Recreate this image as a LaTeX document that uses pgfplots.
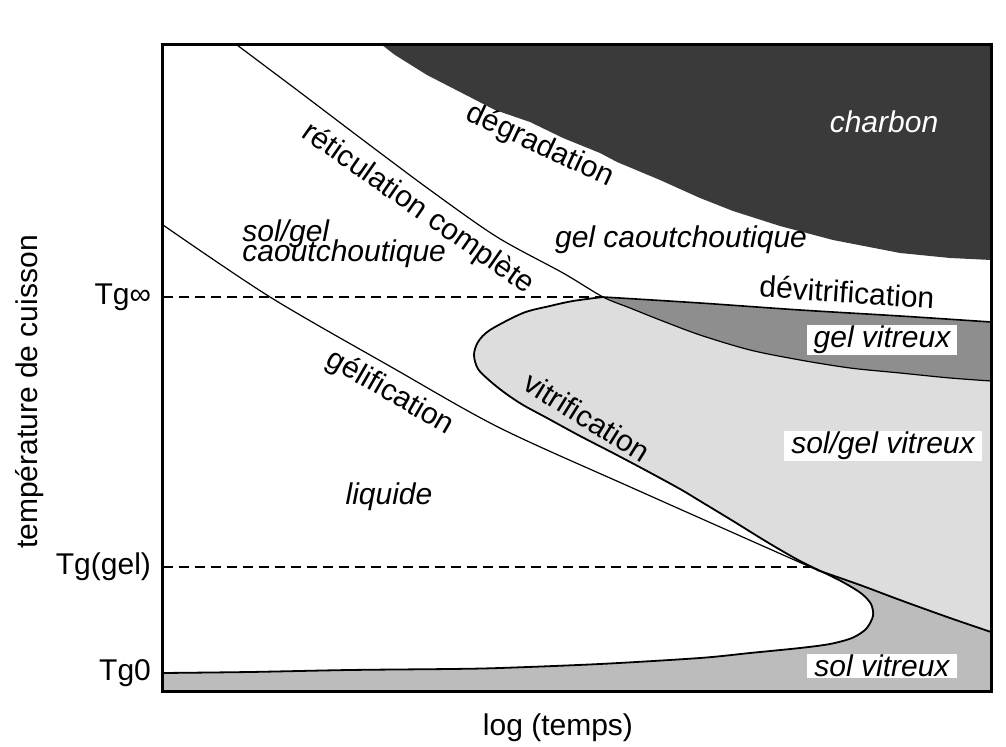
\documentclass[border=0pt]{standalone}
\usepackage{fontspec}
\setmainfont{Liberation Sans}
\setsansfont{Liberation Sans}
\usepackage{pgfplots}
\pgfplotsset{compat=1.18}

\definecolor{charbon}{HTML}{3A3A3A}
\definecolor{gelvit}{HTML}{8E8E8E}
\definecolor{solgelvit}{HTML}{DDDDDD}
\definecolor{solvit}{HTML}{BCBCBC}

\begin{document}
\begin{tikzpicture}[font=\fontsize{15}{15}\selectfont]
\begin{axis}[
  x=0.5pt, y=0.5pt, y dir=reverse,
  xmin=163, xmax=991, ymin=45, ymax=692,
  axis on top, clip=false,
  axis line style={line width=1.5pt},
  xtick=\empty,
  ytick={297,567,673},
  yticklabels={Tg∞,Tg(gel),Tg0},
  major tick length=0pt,
  yticklabel style={font=\fontsize{15}{15}\selectfont, xshift=-2.5pt},
]
% zones
\addplot[fill=charbon, draw=none] coordinates {
  (382,45) (395,55) (427,75) (462,93) (495,110) (530,122) (563,138) (600,153)
  (617,162) (660,180) (700,198) (733,211) (780,226) (833,240) (900,253)
  (950,258) (991,260) (991,45) (382,45)};
\addplot[fill=solgelvit, draw=none] coordinates {
  (603,297) (630,308) (660,320) (700,335) (750,350) (800,360) (850,368)
  (900,373) (950,378) (991,381) (991,632) (950,618) (900,600) (860,585)
  (833,577) (800,561) (767,542) (733,521) (700,501) (680,489) (647,471)
  (613,453) (580,436) (547,418) (523,405) (505,393) (490,381) (478,369)
  (474,355) (478,342) (490,330) (523,313) (550,306) (573,301) (603,297)};
\addplot[fill=gelvit, draw=none] coordinates {
  (603,297) (700,303) (800,310) (900,316) (991,322) (991,381) (950,378)
  (900,373) (850,368) (800,360) (750,350) (700,335) (660,320) (630,308)
  (603,297)};
\addplot[fill=solvit, draw=none] coordinates {
  (163,692) (163,673) (250,672) (350,670) (450,669) (500,668) (600,664)
  (700,658) (750,653) (800,648) (830,644) (852,638) (866,629) (873,616)
  (871,604) (862,594) (848,585) (833,577) (860,585) (900,600) (950,618)
  (991,632) (991,692) (163,692)};

% courbes
\addplot[black, line width=0.9pt, smooth] coordinates {
  (163,673) (250,672) (350,670) (450,669) (500,668) (600,664) (700,658)
  (750,653) (800,648) (830,644) (852,638) (866,629) (873,616) (871,604)
  (862,594) (848,585) (833,577) (800,561) (767,542) (733,521) (700,501)
  (680,489) (647,471) (613,453) (580,436) (547,418) (523,405) (505,393)
  (490,381) (478,369) (474,355) (478,342) (490,330) (523,313) (550,306)
  (573,301) (603,297)};
\addplot[black, line width=0.9pt, smooth] coordinates {
  (817,570) (860,585) (900,600) (950,618) (991,632)};
\addplot[black, line width=0.6pt, smooth] coordinates {
  (163,225) (270,297) (393,368) (500,428) (637,490) (817,570)};
\addplot[black, line width=0.6pt, smooth] coordinates {
  (237,45) (297,90) (363,140) (430,190) (497,237) (563,273) (603,297)
  (630,308) (660,320) (700,335) (750,350) (800,360) (850,368) (900,373)
  (950,378) (991,381)};
\addplot[black, line width=0.8pt, smooth] coordinates {
  (603,297) (700,303) (800,310) (900,316) (991,322)};
\addplot[black, line width=0.8pt, dash pattern=on 5pt off 3pt] coordinates {
  (163,297) (603,297)};
\addplot[black, line width=0.8pt, dash pattern=on 5pt off 3pt] coordinates {
  (163,567) (810,567)};

% textes
\node[white, font=\fontsize{15}{15}\selectfont\itshape] at (axis cs:884,122) {charbon};
\node[rotate=-25] at (axis cs:540,146) {dégradation};
\node[rotate=-35] at (axis cs:418,209) {réticulation complète};
\node[font=\fontsize{15}{15}\selectfont\itshape] at (axis cs:681,240) {gel caoutchoutique};
\node[anchor=base west, inner sep=0pt, font=\fontsize{15}{15}\selectfont\itshape] at (axis cs:242,242) {sol/gel};
\node[anchor=base west, inner sep=0pt, font=\fontsize{15}{15}\selectfont\itshape] at (axis cs:242,262) {caoutchoutique};
\node[rotate=-4] at (axis cs:847,292) {dévitrification};
\node[fill=white, inner xsep=3.5pt, inner ysep=0.5pt, font=\fontsize{15}{15}\selectfont\itshape] at (axis cs:882,340) {gel vitreux};
\node[fill=white, inner xsep=3.5pt, inner ysep=0.5pt, font=\fontsize{15}{15}\selectfont\itshape] at (axis cs:883,446) {sol/gel vitreux};
\node[fill=white, inner xsep=3.5pt, inner ysep=0.5pt, font=\fontsize{15}{15}\selectfont\itshape] at (axis cs:882,666) {sol vitreux};
\node[rotate=-32] at (axis cs:587,417) {vitrification};
\node[rotate=-30] at (axis cs:390,393) {gélification};
\node[font=\fontsize{15}{15}\selectfont\itshape] at (axis cs:389,497) {liquide};
\node at (axis cs:558,728) {log (temps)};
\node[rotate=90] at (axis cs:30,392) {température de cuisson};

\coordinate (BL) at (axis cs:0,747);
\coordinate (TR) at (axis cs:1006,0);
\end{axis}
\pgfresetboundingbox
\path[use as bounding box] (BL) rectangle (TR);
\end{tikzpicture}
\end{document}
